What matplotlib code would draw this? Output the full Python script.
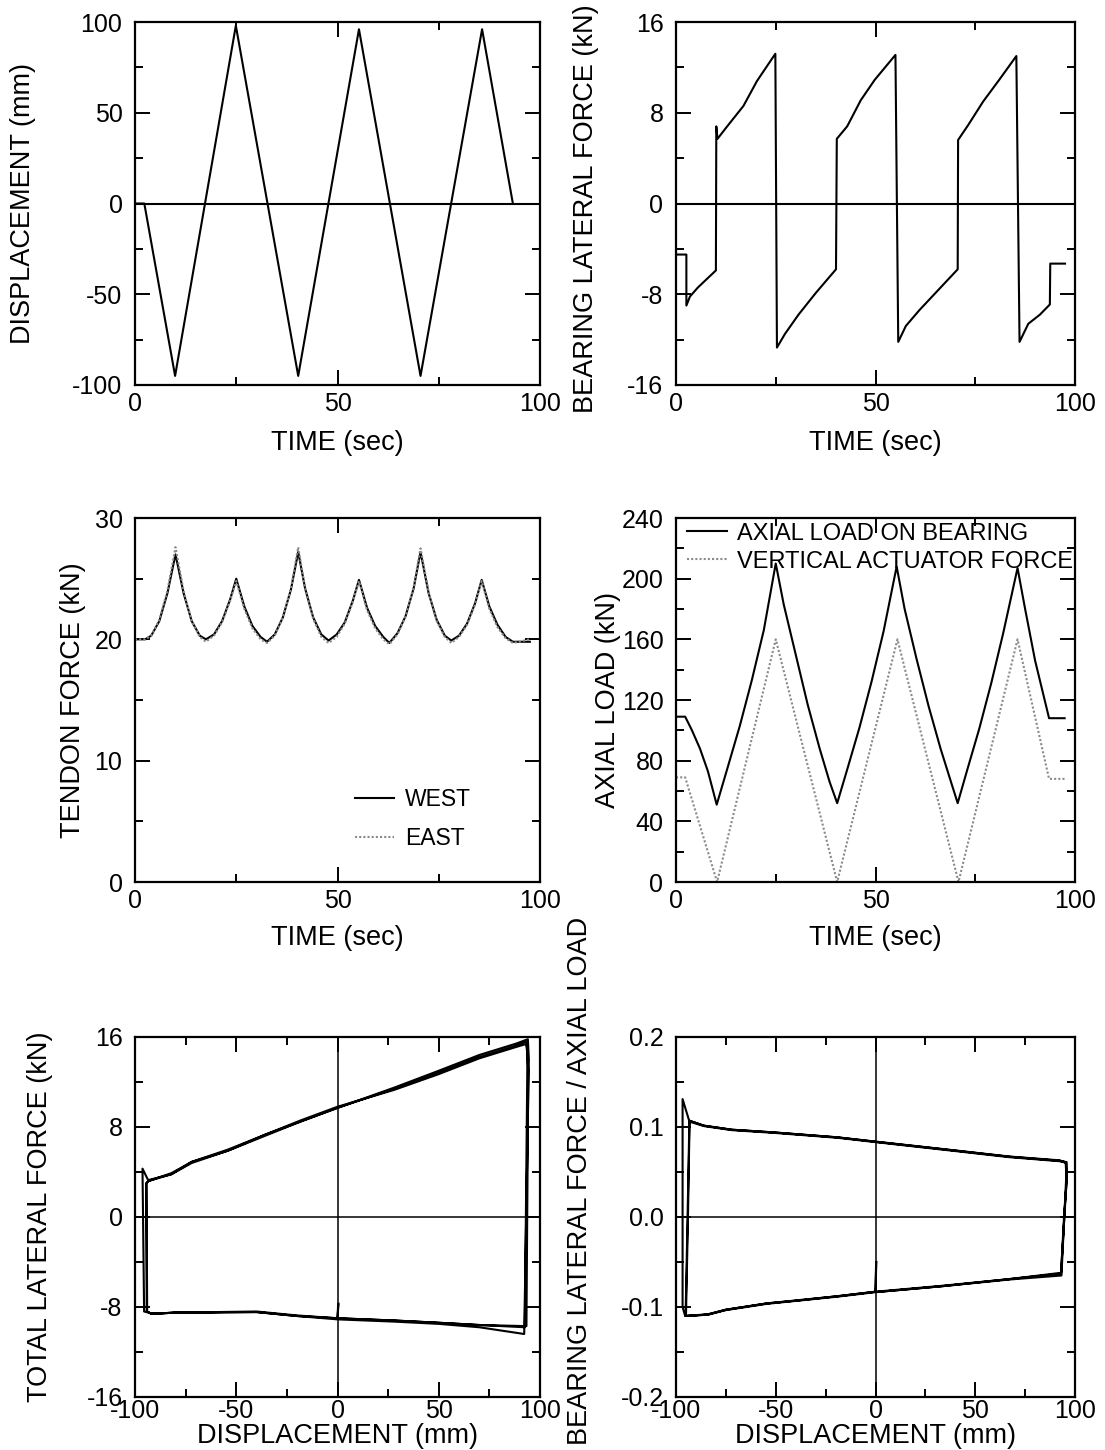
import matplotlib
matplotlib.use("Agg")
import matplotlib.pyplot as plt
from matplotlib.ticker import MultipleLocator, FormatStrFormatter

plt.rcParams['font.family'] = ['Liberation Sans', 'DejaVu Sans']
plt.rcParams['axes.unicode_minus'] = False

# ---------- datos: desplazamiento vs tiempo ----------
t_disp = [0, 2.3, 9.9, 24.9, 40.3, 55.3, 70.5, 85.7, 93.3]
disp = [0, 0, -95, 98, -95, 96, -95, 96, 0]

# ---------- fuerza lateral del apoyo vs tiempo ----------
t_bear = [0, 0, 2.6, 2.6, 3.5, 5.5, 8.2, 10.0, 10.1, 10.4,
          12.6, 16.9, 20.3, 24.9, 25.3, 27.3, 30.7, 35.0, 40.1, 40.3,
          42.9, 46.3, 49.8, 55.0, 55.7, 57.6, 61.0, 65.0, 70.6, 70.7,
          73.2, 77.0, 81.0, 85.3, 86.1, 88.3, 91.2, 93.7, 93.8, 97.5]
f_bear = [-3.9, -4.5, -4.5, -9.0, -8.2, -7.4, -6.5, -5.9, 6.8, 5.7,
          6.7, 8.6, 10.8, 13.2, -12.7, -11.5, -9.8, -7.9, -5.8, 5.7,
          6.8, 9.1, 10.9, 13.1, -12.2, -10.8, -9.4, -7.9, -5.8, 5.6,
          6.9, 9.0, 10.9, 13.0, -12.2, -10.6, -9.8, -8.9, -5.3, -5.3]

# ---------- fuerza en tendones ----------
t_tendon = [0, 2.5, 4, 6, 8, 10, 12, 14, 16, 17.5, 19.5, 21.5, 23.5, 25,
            27, 29, 31, 32.6, 34.5, 36.5, 38.5, 40.3, 42, 44, 46, 47.8,
            49.8, 51.8, 53.8, 55.3, 57.3, 59.3, 61.3, 62.8, 64.8, 66.8, 68.8,
            70.5, 72.5, 74.5, 76.5, 78.1, 80, 82, 84, 85.6, 87.5, 89.5, 91.5,
            93.3, 97.5]
west = [20.0, 20.0, 20.3, 21.5, 23.8, 27.0, 23.8, 21.5, 20.3, 20.0, 20.4,
        21.5, 23.3, 25.0, 22.7, 21.1, 20.2, 19.8, 20.4, 21.8, 24.1, 27.2,
        24.2, 21.8, 20.4, 19.9, 20.4, 21.4, 23.2, 24.9, 22.6, 21.1, 20.2,
        19.7, 20.5, 21.9, 24.2, 27.2, 23.8, 21.6, 20.3, 19.9, 20.3, 21.3,
        23.0, 24.9, 22.7, 21.2, 20.2, 19.8, 19.8]
east = [20.0, 20.0, 20.3, 21.6, 24.0, 27.6, 24.0, 21.5, 20.2, 19.8, 20.3,
        21.4, 23.2, 24.8, 22.5, 20.9, 20.0, 19.7, 20.3, 21.8, 24.2, 27.6,
        24.2, 21.7, 20.2, 19.7, 20.2, 21.3, 23.1, 24.8, 22.4, 20.9, 20.0,
        19.6, 20.4, 21.9, 24.3, 27.5, 23.9, 21.5, 20.2, 19.7, 20.2, 21.2,
        22.9, 24.8, 22.5, 21.0, 20.1, 19.7, 20.0]

# ---------- carga axial ----------
t_axial = [0, 2.3, 4, 6, 8, 10.2, 13, 16, 19, 22, 25.0, 27, 30, 33, 36, 38.5,
           40.4, 43, 46, 49, 52, 55.3, 57.3, 60.3, 63.3, 66.3, 68.8, 70.6,
           73, 76, 79, 82, 85.6, 87.5, 90, 93.5, 97.4]
axial = [109, 109, 100, 88, 73, 51, 76, 103, 133, 166, 210, 183, 150, 117,
         88, 66, 52, 75, 102, 132, 165, 208, 180, 147, 116, 88, 67, 52, 74,
         101, 131, 164, 207, 180, 146, 108, 108]
t_act = [0, 2.3, 10.3, 25.0, 40.4, 55.5, 70.8, 85.6, 93.5, 97.4]
actuator = [69, 69, 0, 160, 0, 160, 0, 160, 68, 68]

# ---------- lazo fuerza lateral total vs desplazamiento ----------
d_total = [0.5, 0,
           -20, -40, -60, -80, -91, -95.5, -96.3, -93.3,
           -82, -72, -54, -36, -18, 0, 28, 50, 70, 88, 93, 93.8, 92.5,
           70, 50, 28, 0, -20, -40, -60, -80, -92, -94.2, -94.5, -93.3,
           -82, -72, -54, -36, -18, 0, 28, 50, 70, 88, 94, 94.5, 92.2,
           70, 50, 28, 0, -20, -40, -60, -80, -92, -94.0, -94.3, -93.0,
           -82, -72, -54, -36, -18, 0, 28, 50, 70, 88, 93.5, 94.2, 93.3,
           70, 50, 28, 0, 0.3]
f_total = [-7.7, -9.0,
           -8.8, -8.45, -8.45, -8.5, -8.6, -8.4, 4.3, 3.2,
           3.8, 4.8, 5.9, 7.2, 8.5, 9.7, 11.4, 12.8, 14.2, 15.2, 15.6, 14.5, -9.8,
           -9.6, -9.4, -9.2, -9.0, -8.75, -8.4, -8.45, -8.5, -8.6, -8.4, 3.0, 3.2,
           3.9, 4.9, 6.0, 7.3, 8.5, 9.7, 11.5, 13.0, 14.4, 15.4, 15.8, 14.0, -10.4,
           -9.8, -9.5, -9.3, -9.1, -8.8, -8.45, -8.5, -8.5, -8.6, -8.4, 3.0, 3.3,
           3.8, 4.9, 5.9, 7.3, 8.6, 9.8, 11.3, 12.7, 14.1, 15.1, 15.4, 13.0, -9.7,
           -9.6, -9.4, -9.2, -9.0, -7.8]

# ---------- lazo fuerza lateral / carga axial ----------
d_ratio = [0.3, 0,
           -19, -40, -54.5, -75, -84, -95.4, -96.7, -96.7, -93.4,
           -86, -72, -51, -19, 0, 33, 67, 92.2, 95.5, 96, 94.5, 93,
           67, 33, 0, -19, -54.5, -75, -84, -95.2, -94.2, -93.3,
           -86, -72, -51, -19, 0, 33, 67, 92.2, 95.8, 95.5, 93.2,
           67, 33, 0, -19, -54.5, -75, -84, -95.0, -94.0, -93.2,
           -86, -72, -51, -19, 0, 33, 67, 92.2, 95.3, 95.8, 93.0,
           67, 33, 0, 0.4]
r_ratio = [-0.050, -0.083,
           -0.088, -0.093, -0.096, -0.103, -0.1085, -0.110, -0.100, 0.131, 0.107,
           0.1015, 0.097, 0.094, 0.0885, 0.0836, 0.0755, 0.067, 0.0625, 0.060, 0.045, 0.0, -0.063,
           -0.069, -0.0765, -0.083, -0.088, -0.096, -0.103, -0.108, -0.110, 0.0, 0.106,
           0.101, 0.0965, 0.0935, 0.088, 0.0832, 0.075, 0.0665, 0.062, 0.061, 0.040, -0.065,
           -0.0695, -0.077, -0.0835, -0.0885, -0.0965, -0.1035, -0.1085, -0.110, 0.0, 0.107,
           0.1015, 0.097, 0.094, 0.0885, 0.0838, 0.0757, 0.0672, 0.063, 0.061, 0.042, -0.062,
           -0.069, -0.077, -0.0835, -0.050]

GRIS = '#8a8a8a'
FS_TICK = 18
FS_LAB = 19.5


def estilo(ax, xlim, ylim, xmaj, xmin, ymaj, ymin, xlabel, ylabel, ylab_x,
           ylab_y=0.5, xpad=5, lpad=10):
    ax.set_xlim(*xlim)
    ax.set_ylim(*ylim)
    ax.xaxis.set_major_locator(MultipleLocator(xmaj))
    ax.xaxis.set_minor_locator(MultipleLocator(xmin))
    ax.yaxis.set_major_locator(MultipleLocator(ymaj))
    ax.yaxis.set_minor_locator(MultipleLocator(ymin))
    ax.tick_params(which='both', direction='in', top=True, right=True, width=1.4)
    ax.tick_params(which='major', length=11, labelsize=FS_TICK)
    ax.tick_params(which='minor', length=6)
    ax.tick_params(axis='x', pad=xpad)
    ax.tick_params(axis='y', pad=9)
    for s in ax.spines.values():
        s.set_linewidth(1.6)
    ax.set_xlabel(xlabel, fontsize=FS_LAB, labelpad=lpad)
    ax.set_ylabel(ylabel, fontsize=FS_LAB)
    ax.yaxis.set_label_coords(ylab_x, ylab_y)


fig = plt.figure(figsize=(11.05, 14.5), dpi=100)
izq, der = 135 / 1105, 676 / 1105
ancho_i, ancho_d = 405 / 1105, 399 / 1105
filas = [(1 - 385 / 1450, 363 / 1450), (1 - 882 / 1450, 364 / 1450), (1 - 1397 / 1450, 360 / 1450)]

ax1 = fig.add_axes([izq, filas[0][0], ancho_i, filas[0][1]])
ax2 = fig.add_axes([der, filas[0][0], ancho_d, filas[0][1]])
ax3 = fig.add_axes([izq, filas[1][0], ancho_i, filas[1][1]])
ax4 = fig.add_axes([der, filas[1][0], ancho_d, filas[1][1]])
ax5 = fig.add_axes([izq, filas[2][0], ancho_i, filas[2][1]])
ax6 = fig.add_axes([der, filas[2][0], ancho_d, filas[2][1]])

# desplazamiento
ax1.axhline(0, color='black', lw=1.5)
ax1.plot(t_disp, disp, color='black', lw=1.5)
estilo(ax1, (0, 100), (-100, 100), 50, 25, 50, 25, 'TIME (sec)', 'DISPLACEMENT (mm)', -0.245)

# fuerza del apoyo
ax2.axhline(0, color='black', lw=1.5)
ax2.plot(t_bear, f_bear, color='black', lw=1.5)
estilo(ax2, (0, 100), (-16, 16), 50, 25, 8, 4, 'TIME (sec)', 'BEARING LATERAL FORCE (kN)',
       -0.193, 0.485)

# tendones
ax3.plot(t_tendon, west, color='black', lw=1.5, label='WEST')
ax3.plot(t_tendon, east, color=GRIS, lw=1.5, ls=(0, (1, 1)), label='EAST')
estilo(ax3, (0, 100), (0, 30), 50, 25, 10, 5, 'TIME (sec)', 'TENDON FORCE (kN)', -0.12, lpad=9)
ax3.legend(loc='upper left', bbox_to_anchor=(0.543, 0.258), frameon=False, fontsize=16.5,
           handlelength=1.7, handletextpad=0.5, labelspacing=0.7, borderpad=0, borderaxespad=0)

# carga axial
ax4.plot(t_axial, axial, color='black', lw=1.5, label='AXIAL LOAD ON BEARING')
ax4.plot(t_act, actuator, color=GRIS, lw=1.5, ls=(0, (1, 1)), label='VERTICAL ACTUATOR FORCE')
estilo(ax4, (0, 100), (0, 240), 50, 25, 40, 20, 'TIME (sec)', 'AXIAL LOAD (kN)', -0.138, lpad=9)
ax4.legend(loc='upper left', bbox_to_anchor=(0.028, 0.987), frameon=False, fontsize=17,
           handlelength=1.7, handletextpad=0.42, labelspacing=0.25, borderpad=0, borderaxespad=0)

# lazo total
ax5.axhline(0, color='black', lw=1.1)
ax5.axvline(0, color='black', lw=1.1)
ax5.plot(d_total, f_total, color='black', lw=1.5)
estilo(ax5, (-100, 100), (-16, 16), 50, 25, 8, 4, 'DISPLACEMENT (mm)', 'TOTAL LATERAL FORCE (kN)',
       -0.203, xpad=1.5, lpad=0)

# lazo normalizado
ax6.axhline(0, color='black', lw=1.1)
ax6.axvline(0, color='black', lw=1.1)
ax6.plot(d_ratio, r_ratio, color='black', lw=1.5)
estilo(ax6, (-100, 100), (-0.2, 0.2), 50, 25, 0.1, 0.05, 'DISPLACEMENT (mm)',
       'BEARING LATERAL FORCE / AXIAL LOAD', -0.208, 0.6, xpad=1.5, lpad=0)
ax6.yaxis.set_major_formatter(FormatStrFormatter('%.1f'))

fig.savefig('out.png', dpi=100)
